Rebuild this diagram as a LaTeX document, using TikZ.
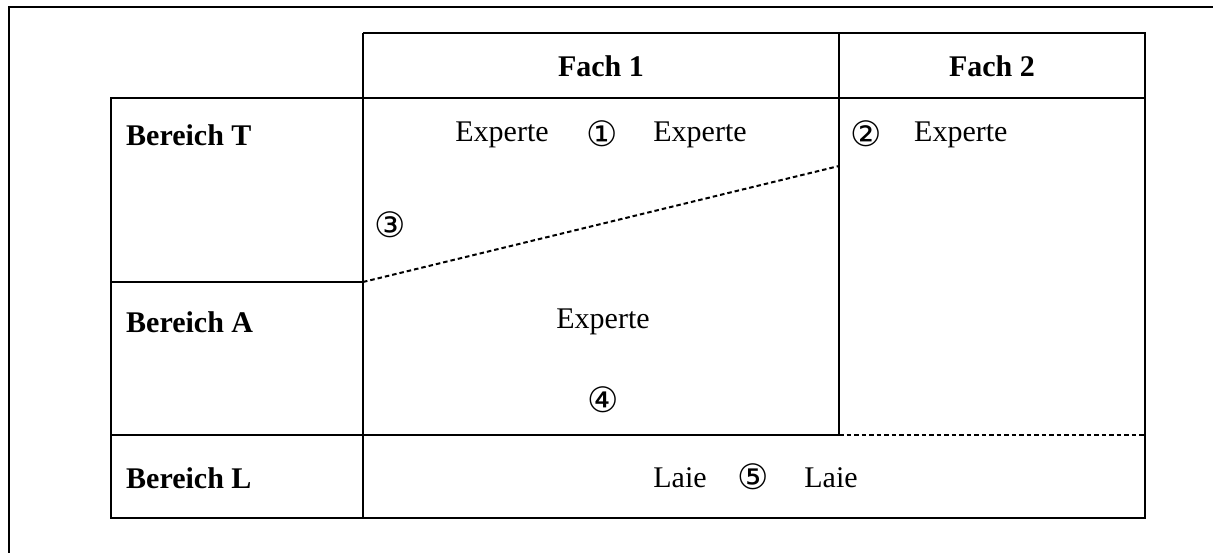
\documentclass[tikz,border=0pt]{standalone}
\usepackage{fontspec}
\setmainfont{Liberation Serif}
\newfontfamily\circfont{DejaVu Sans}
\begin{document}
\begin{tikzpicture}[x=1pt,y=-1pt,
  grid/.style={line width=2.2pt},
  dsh/.style={line width=2pt, dash pattern=on 4.5pt off 3pt},
  hdr/.style={font=\fontsize{30}{34}\selectfont\bfseries, inner sep=0pt},
  txt/.style={font=\fontsize{30}{34}\selectfont, inner sep=0pt},
  circ/.style={font=\circfont\fontsize{35}{40}\selectfont, inner sep=0pt}]
\useasboundingbox (0,0) rectangle (1213,553);
\begin{scope}
\clip (0,0) rectangle (1213,553);
\draw[grid] (9,600) -- (9,7) -- (1240,7);
\end{scope}
% grid coordinates
\coordinate (hTL) at (363,33);
\coordinate (hTM) at (839,33);
\coordinate (hTR) at (1145,33);
\coordinate (tL) at (111,98);
\coordinate (tM1) at (363,98);
\coordinate (tM2) at (839,98);
\coordinate (tR) at (1145,98);
\coordinate (aL) at (111,282);
\coordinate (aM) at (363,282);
\coordinate (lL) at (111,435);
\coordinate (lM1) at (363,435);
\coordinate (lM2) at (839,435);
\coordinate (lR) at (1145,435);
\coordinate (bL) at (111,518);
\coordinate (bM) at (363,518);
\coordinate (bR) at (1145,518);
\coordinate (dR) at (839,166);
% outline
\draw[grid] (hTL) -- (hTR) -- (bR) -- (bL) -- (tL) -- (tR);
\draw[grid] (hTL) -- (bM);
\draw[grid] (hTM) -- (lM2);
\draw[grid] (aL) -- (aM);
\draw[grid] (lL) -- (lM2);
\draw[dsh] (lM2) -- (lR);
\draw[dsh] (aM) -- (dR);
% headers
\node[hdr] (f1) at (601,66) {Fach 1};
\node[hdr] (f2) at (992,66) {Fach 2};
\node[hdr, anchor=west] (bt) at (126,135) {Bereich T};
\node[hdr, anchor=west] (ba) at (126,322) {Bereich A};
\node[hdr, anchor=west] (bl) at (126,478) {Bereich L};
% contents
\node[txt] (e1) at (502,135) {Experte};
\node[circ] (c1) at (602,134) {①};
\node[txt] (e2) at (700,135) {Experte};
\node[circ] (c2) at (866,134) {②};
\node[txt, anchor=west] (e3) at (914,135) {Experte};
\node[circ] (c3) at (390,225) {③};
\node[txt] (e4) at (603,322) {Experte};
\node[circ] (c4) at (603,400) {④};
\node[txt] (l1) at (680,478) {Laie};
\node[circ] (c5) at (753,477) {⑤};
\node[txt] (l2) at (831,478) {Laie};
\end{tikzpicture}
\end{document}
